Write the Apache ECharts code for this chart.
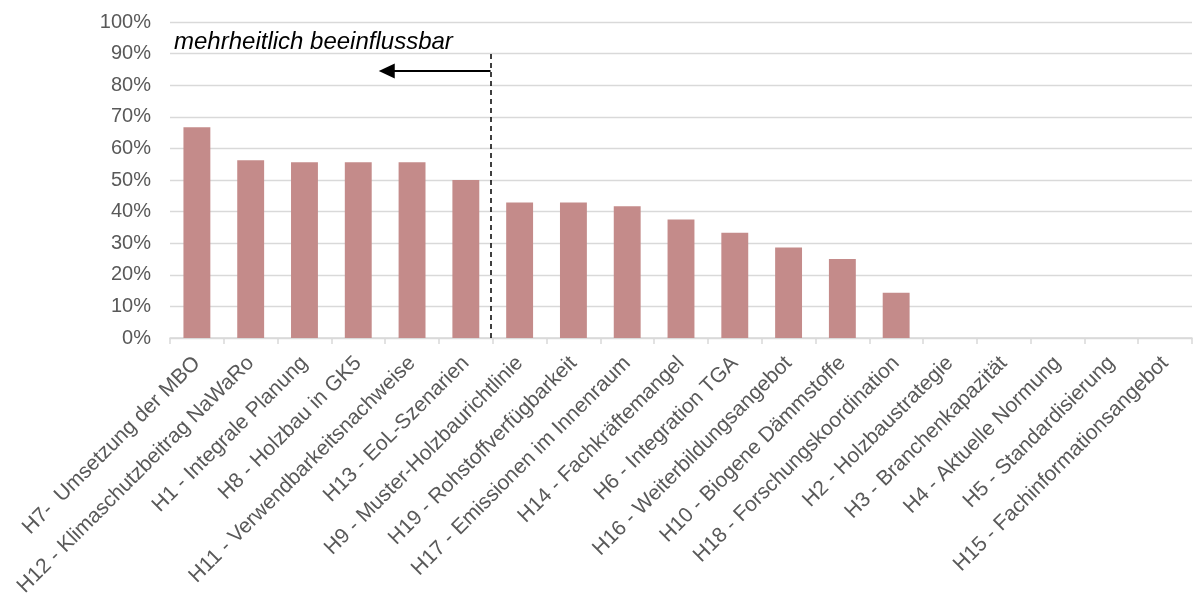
<!DOCTYPE html>
<html>
<head>
<meta charset="utf-8">
<script src="https://cdn.jsdelivr.net/npm/echarts@6/dist/echarts.min.js"></script>
<style>
html,body{margin:0;padding:0;background:#fff;}
#chart{width:1194px;height:596px;}
</style>
</head>
<body>
<div id="chart"></div>
<script>
const categories = [
  'H7-  Umsetzung der MBO',
  'H12 - Klimaschutzbeitrag NaWaRo',
  'H1 - Integrale Planung',
  'H8 - Holzbau in GK5',
  'H11 - Verwendbarkeitsnachweise',
  'H13 - EoL-Szenarien',
  'H9 - Muster-Holzbaurichtlinie',
  'H19 - Rohstoffverfügbarkeit',
  'H17 - Emissionen im Innenraum',
  'H14 - Fachkräftemangel',
  'H6 - Integration TGA',
  'H16 - Weiterbildungsangebot',
  'H10 - Biogene Dämmstoffe',
  'H18 - Forschungskoordination',
  'H2 - Holzbaustrategie',
  'H3 - Branchenkapazität',
  'H4 - Aktuelle Normung',
  'H5 - Standardisierung',
  'H15 - Fachinformationsangebot'
];
const values = [66.7, 56.25, 55.6, 55.6, 55.6, 50.0, 42.9, 42.9, 41.7, 37.5, 33.3, 28.6, 25.0, 14.3, 0, 0, 0, 0, 0];
const yTicks = [0, 10, 20, 30, 40, 50, 60, 70, 80, 90, 100];
const annotationText = 'mehrheitlich beeinflussbar';
const dividerPos = 5.96;      // in category units (boundary after H13)
const dividerTop = 90;        // percent
const arrowLevel = 84.5;      // percent
const arrowEnd = 4.03;        // category units (arrow head centre)

const chart = echarts.init(document.getElementById('chart'), null, {renderer: 'canvas'});
const fontFam = '"Liberation Sans", Arial, Helvetica, sans-serif';
chart.setOption({
  animation: false,
  grid: {left: 170, right: 2, top: 22, bottom: 258, containLabel: false, outerBoundsMode: 'none'},
  xAxis: [{
    type: 'category',
    data: categories,
    axisLine: {lineStyle: {color: '#d9d9d9', width: 1.5}},
    axisTick: {show: true, length: 6, interval: 0, lineStyle: {color: '#d9d9d9', width: 1.5}},
    axisLabel: {interval: 0, rotate: 45, color: '#595959', fontSize: 21, fontFamily: fontFam, margin: 22},
    splitLine: {show: false}
  }, {
    type: 'value', min: 0, max: categories.length, show: false
  }],
  yAxis: {
    type: 'value',
    min: yTicks[0], max: yTicks[yTicks.length - 1], interval: 10,
    axisLine: {show: false},
    axisTick: {show: false},
    axisLabel: {color: '#595959', fontSize: 20, fontFamily: fontFam, margin: 19, formatter: v => v + '%'},
    splitLine: {lineStyle: {color: '#d9d9d9', width: 1.3}}
  },
  series: [{
    type: 'bar',
    data: values,
    barWidth: '50%',
    itemStyle: {color: '#c48b8a'},
    z: 3
  }, {
    type: 'line',
    xAxisIndex: 1,
    data: [],
    silent: true,
    markLine: {
      silent: true,
      animation: false,
      label: {show: false},
      data: [
        [{coord: [dividerPos, 0], symbol: 'none'}, {coord: [dividerPos, dividerTop], symbol: 'none', lineStyle: {type: [5, 4], color: '#000', width: 1.5}}],
        [{coord: [dividerPos, arrowLevel], symbol: 'none'}, {coord: [arrowEnd, arrowLevel], symbol: 'triangle', symbolSize: [15, 16], symbolRotate: 90, lineStyle: {type: 'solid', color: '#000', width: 2}}]
      ],
      lineStyle: {color: '#000'}
    },
    z: 5
  }],
  graphic: [{
    type: 'text',
    left: 174,
    top: 30,
    style: {text: annotationText, font: 'italic 24px ' + fontFam, fill: '#000'}
  }]
});
</script>
</body>
</html>
